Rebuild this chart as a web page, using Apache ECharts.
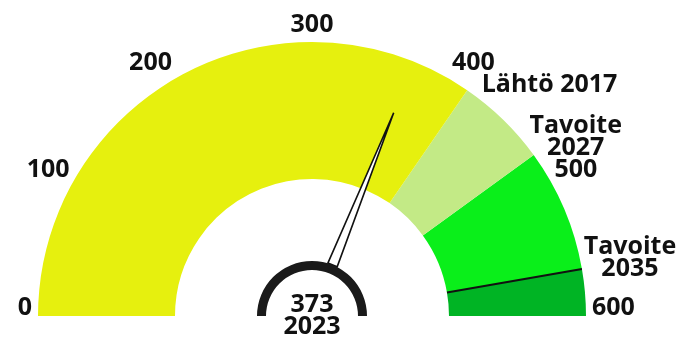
<!DOCTYPE html>
<html>
<head>
<meta charset="utf-8">
<script src="https://cdn.jsdelivr.net/npm/echarts@6/dist/echarts.min.js"></script>
<style>
  html, body { margin: 0; padding: 0; background: #fff; }
  #chart { width: 685px; height: 344px; }
</style>
</head>
<body>
<div id="chart"></div>
<script>
// asteikko
const scaleMin = 0;
const scaleMax = 600;
const tickStep = 100;

// värialueiden ylärajat ja värit
const bandEdges = [415, 480, 567, 600];
const bandColors = ['#e6f00e', '#c3ea86', '#0aef1a', '#00b424'];

// tavoitteet
const targetNames = ['Lähtö 2017', 'Tavoite\n2027', 'Tavoite\n2035'];
const targetValues = [415, 480, 567];

// nykytila
const currentValue = 373;
const currentYear = '2023';

const FONT = 'Open Sans';
const FS = 25;
const cx = 312, cy = 316, R = 274, ring = 137;

let chart = echarts.init(document.getElementById('chart'));

let colorStops = bandEdges.map((e, i) => [(e - scaleMin) / (scaleMax - scaleMin), bandColors[i]]);

// label placement for the target notes
let targetLabels = [
  { position: 'right', distance: 14, offset: [0, -5], align: 'left' },
  { position: 'inside', offset: [42, -18], align: 'center' },
  { position: 'inside', offset: [48, -11], align: 'center' },
];

let txt = { color: '#111', fontFamily: FONT, fontWeight: 'bold', fontSize: FS };

let option = {
  animation: false,
  polar: { center: [cx, cy], radius: [0, R] },
  angleAxis: {
    type: 'value',
    min: scaleMin,
    max: scaleMax,
    interval: tickStep,
    startAngle: 180,
    endAngle: 0,
    axisLine: { show: false },
    axisTick: { show: false },
    splitLine: { show: false },
    axisLabel: {
      margin: 6,
      ...txt,
      lineHeight: 22,
      // pieni hienosäätö reunimmaisille ja vinoille numeroille
      formatter: (v) => {
        if (v === scaleMin || v === scaleMax) return '{e|' + v + '}';
        if (v === 100 || v === 500) return '{s|' + v + '}';
        return '{n|' + v + '}';
      },
      rich: {
        n: { ...txt, lineHeight: 22 },
        s: { ...txt, lineHeight: 12 },
        e: { ...txt, lineHeight: 22, padding: [0, 0, 16, 0] },
      },
    },
  },
  radiusAxis: { min: 0, max: 1, show: false },
  series: [
    {
      // värikaari + osoitin
      type: 'gauge',
      center: [cx, cy],
      radius: R,
      startAngle: 180,
      endAngle: 0,
      min: scaleMin,
      max: scaleMax,
      z: 2,
      axisLine: { lineStyle: { width: ring, color: colorStops } },
      splitLine: { show: false },
      axisTick: { show: false },
      axisLabel: { show: false },
      anchor: { show: false },
      title: { show: false },
      pointer: {
        icon: 'path://M0,100 L5,0 L10,100 Z',
        length: 164,
        width: 10,
        offsetCenter: [0, -55],
        itemStyle: { color: '#fff', borderColor: '#111', borderWidth: 1.6 },
      },
      detail: {
        offsetCenter: [0, 0],
        formatter: (v) => v + '\n' + currentYear,
        ...txt,
        lineHeight: 22,
      },
      data: [{ value: currentValue }],
    },
    {
      // 2035 raja
      type: 'gauge',
      center: [cx, cy],
      radius: R,
      startAngle: 180,
      endAngle: 0,
      min: scaleMin,
      max: scaleMax,
      z: 3,
      axisLine: { show: false },
      splitLine: { show: false },
      axisTick: { show: false },
      axisLabel: { show: false },
      anchor: { show: false },
      title: { show: false },
      detail: { show: false },
      pointer: {
        icon: 'rect',
        length: ring,
        width: 2,
        offsetCenter: [0, -ring],
        itemStyle: { color: '#111' },
      },
      data: [{ value: targetValues[2] }],
    },
    {
      // musta napa
      type: 'gauge',
      center: [cx, cy],
      radius: 55,
      startAngle: 180,
      endAngle: 0,
      z: 4,
      axisLine: { lineStyle: { width: 9, color: [[1, '#1a1a1a']] } },
      splitLine: { show: false },
      axisTick: { show: false },
      axisLabel: { show: false },
      anchor: { show: false },
      pointer: { show: false },
      title: { show: false },
      detail: { show: false },
      data: [],
    },
    {
      type: 'scatter',
      coordinateSystem: 'polar',
      symbolSize: 1,
      itemStyle: { color: 'transparent', opacity: 1 },
      z: 5,
      label: {
        show: true,
        formatter: (p) => p.name,
        ...txt,
        lineHeight: 22,
      },
      data: targetValues.map((v, i) => ({
        name: targetNames[i],
        value: [1, v],
        label: targetLabels[i],
      })),
    },
  ],
};

chart.setOption(option);
</script>
</body>
</html>
